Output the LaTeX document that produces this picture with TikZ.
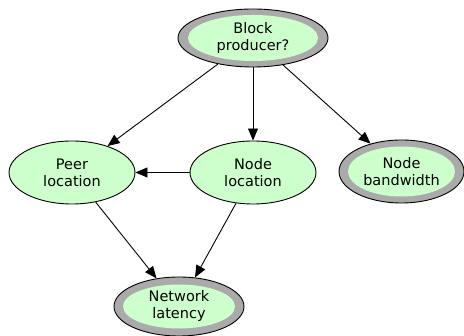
\documentclass[tikz,border=0pt]{standalone}
\usepackage{fontspec}
\setmainfont{DejaVu Sans}
\usetikzlibrary{shapes.geometric,arrows.meta}
\definecolor{nodegreen}{RGB}{204,255,204}
\definecolor{ringgray}{RGB}{170,170,170}
\tikzset{
  plainnode/.style={ellipse, draw=black, line width=0.9pt, fill=nodegreen,
    inner sep=0pt, minimum width=126pt, minimum height=63pt,
    align=center, font=\fontsize{14.5}{17}\selectfont},
  ringnode/.style n args={2}{ellipse, draw=black, line width=0.9pt, fill=ringgray,
    inner sep=0pt, align=center, font=\fontsize{14.5}{17}\selectfont,
    path picture={\fill[nodegreen] (path picture bounding box.center)
      ellipse [x radius=#1, y radius=#2];}},
  arr/.style={line width=0.9pt, -{Triangle[length=12pt,width=10pt]}}
}
\begin{document}
\begin{tikzpicture}[x=1pt,y=1pt]
\useasboundingbox (0,0) rectangle (464,336);
\node[ringnode={65pt}{23pt}, minimum width=150pt, minimum height=58pt] (bp) at (253,298) {Block\\producer?};
\node[plainnode] (peer) at (72,163.5) {Peer\\location};
\node[plainnode] (nloc) at (253,163.5) {Node\\location};
\node[ringnode={53.5pt}{25pt}, minimum width=125pt, minimum height=63pt] (bw) at (401.5,164.5) {Node\\bandwidth};
\node[ringnode={56pt}{22pt}, minimum width=130pt, minimum height=59pt] (lat) at (179,29.5) {Network\\latency};
\draw[arr] (bp) -- (peer);
\draw[arr] (bp) -- (nloc);
\draw[arr] (bp) -- (bw);
\draw[arr] (nloc) -- (peer);
\draw[arr] (peer) -- (lat);
\draw[arr] (nloc) -- (lat);
\end{tikzpicture}
\end{document}
